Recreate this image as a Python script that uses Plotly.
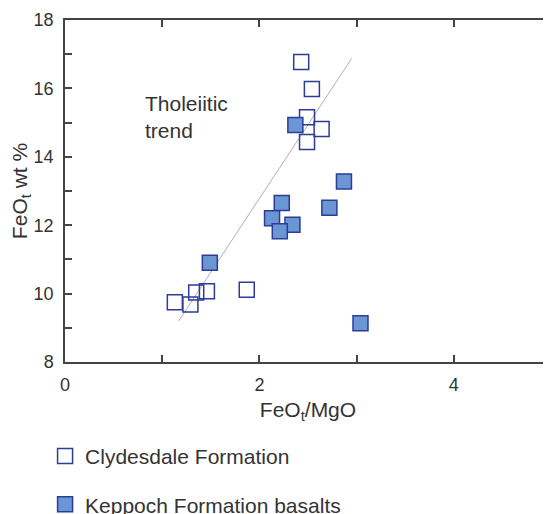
import plotly.graph_objects as go

# Clydesdale Formation (open squares)
clyde_x = [2.43, 2.54, 2.49, 2.64, 2.49, 1.13, 1.29, 1.35, 1.46, 1.87]
clyde_y = [16.77, 15.98, 15.16, 14.81, 14.43, 9.75, 9.68, 10.03, 10.07, 10.11]

# Keppoch Formation basalts (filled squares)
kep_x = [1.49, 2.23, 2.13, 2.34, 2.21, 2.87, 2.72, 3.04, 2.37]
kep_y = [10.90, 12.65, 12.20, 12.01, 11.82, 13.28, 12.51, 9.13, 14.93]

# Tholeiitic trend line end points
trend_x = [1.17, 2.95]
trend_y = [9.20, 16.88]

x_ticks = [0, 1, 2, 3, 4, 5]
x_labels = ["0", "", "2", "", "4", ""]
y_ticks = [8, 9, 10, 11, 12, 13, 14, 15, 16, 17, 18]
y_labels = ["8", "", "10", "", "12", "", "14", "", "16", "", "18"]

FONT = "Liberation Sans, Arial, sans-serif"
TXT = "#333333"
NAVY = "#2c3c98"

fig = go.Figure()
fig.add_trace(go.Scatter(x=trend_x, y=trend_y, mode="lines",
                         line=dict(color="#b0b0b0", width=1), showlegend=False,
                         hoverinfo="skip"))
fig.add_trace(go.Scatter(x=clyde_x, y=clyde_y, mode="markers", name="Clydesdale Formation",
                         legendgroup="a",
                         marker=dict(symbol="square", size=15, color="rgba(255,255,255,0)",
                                     line=dict(color=NAVY, width=1.5))))
fig.add_trace(go.Scatter(x=kep_x, y=kep_y, mode="markers", name="Keppoch Formation basalts",
                         legendgroup="b",
                         marker=dict(symbol="square", size=15, color="#6b96d4",
                                     line=dict(color=NAVY, width=1.5))))

fig.add_annotation(x=0.8, y=15.15, xref="x", yref="y", text="Tholeiitic<br>trend",
                   showarrow=False, xanchor="left", align="left",
                   font=dict(family=FONT, size=21, color=TXT))

axis_common = dict(showline=True, linecolor="#444444", linewidth=1.5, mirror="ticks",
                   ticks="inside", ticklen=7, tickwidth=1.5, tickcolor="#444444",
                   showgrid=False, zeroline=False, automargin=False,
                   tickfont=dict(family=FONT, size=18, color=TXT))

fig.update_xaxes(range=[0, 5], tickmode="array", tickvals=x_ticks, ticktext=x_labels,
                 title=dict(text="FeO<sub>t</sub>/MgO", font=dict(family=FONT, size=21, color=TXT),
                            standoff=8),
                 ticklabelstandoff=6, **axis_common)
fig.update_yaxes(range=[8, 18], tickmode="array", tickvals=y_ticks, ticktext=y_labels,
                 title=dict(text="FeO<sub>t</sub> wt %", font=dict(family=FONT, size=21, color=TXT),
                            standoff=4),
                 ticklabelstandoff=6, **axis_common)

fig.update_layout(
    width=551, height=514,
    margin=dict(l=57, r=8, t=12, b=160, autoexpand=False),
    plot_bgcolor="white", paper_bgcolor="white",
    legend=dict(x=-0.041, y=-0.216, xanchor="left", yanchor="top",
                font=dict(family=FONT, size=21, color=TXT),
                tracegroupgap=18, bgcolor="rgba(0,0,0,0)"),
    font=dict(family=FONT, color=TXT),
)

fig.write_html("out.html")
